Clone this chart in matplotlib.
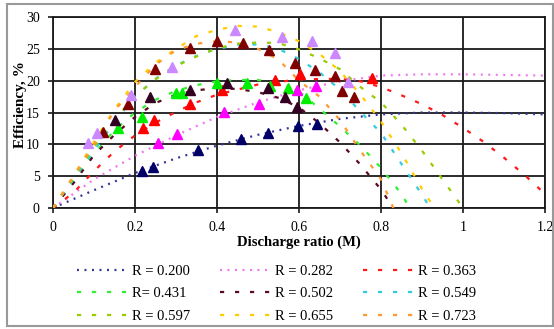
import numpy as np
import matplotlib
matplotlib.use("Agg")
import matplotlib.pyplot as plt
from matplotlib.patches import Rectangle

# fitted curves (M, efficiency %)
m_200 = [0, 0.1, 0.2, 0.3, 0.4, 0.5, 0.6, 0.7, 0.8, 0.9, 1.0, 1.1, 1.2]
e_200 = [0, 2.8, 5.5, 7.8, 9.8, 11.5, 12.9, 14.0, 14.7, 15.0, 15.0, 14.9, 14.7]

m_282 = [0, 0.1, 0.2, 0.3, 0.4, 0.5, 0.6, 0.7, 0.8, 0.9, 1.0, 1.1, 1.2]
e_282 = [0, 4.5, 8.2, 11.4, 14.3, 16.6, 18.5, 19.9, 20.8, 21.0, 21.0, 20.9, 20.8]

m_363 = [0, 0.05, 0.1, 0.15, 0.2, 0.25, 0.3, 0.35, 0.4, 0.5, 0.6, 0.7, 0.75,
         0.8, 0.85, 0.9, 0.95, 1.0, 1.05, 1.1, 1.15, 1.2]
e_363 = [0, 2.4, 5.8, 8.9, 11.4, 13.4, 15.1, 16.6, 17.8, 19.4, 20.2, 20.3, 19.9,
         19.0, 17.7, 16.3, 14.6, 12.6, 10.4, 7.9, 5.2, 2.2]

m_431 = [0, 0.05, 0.1, 0.15, 0.2, 0.25, 0.3, 0.35, 0.4, 0.45, 0.5, 0.55, 0.6,
         0.65, 0.7, 0.75, 0.8, 0.85, 0.87]
e_431 = [0, 4.3, 8.5, 12.2, 15.0, 17.0, 18.4, 19.3, 19.9, 20.1, 20.1, 19.6, 18.3,
         15.6, 12.8, 9.8, 6.3, 2.2, 0]

m_502 = [0, 0.05, 0.1, 0.15, 0.2, 0.25, 0.3, 0.35, 0.4, 0.45, 0.5, 0.55, 0.6,
         0.65, 0.7, 0.75, 0.8, 0.83]
e_502 = [0, 3.9, 8.3, 11.5, 14.3, 16.5, 17.8, 18.5, 18.8, 18.7, 18.2, 17.3, 15.8,
         13.3, 10.3, 6.8, 2.9, 0]

m_549 = [0, 0.05, 0.1, 0.15, 0.2, 0.25, 0.3, 0.35, 0.4, 0.45, 0.5, 0.55, 0.6,
         0.65, 0.7, 0.75, 0.8, 0.85, 0.9, 0.92]
e_549 = [0, 4.5, 9.0, 13.5, 17.5, 20.3, 22.4, 23.9, 25.0, 25.6, 25.7, 25.0, 23.4,
         21.3, 18.6, 15.1, 11.8, 6.9, 2.1, 0]

m_597 = [0, 0.05, 0.1, 0.15, 0.2, 0.25, 0.3, 0.35, 0.4, 0.45, 0.5, 0.55, 0.6,
         0.65, 0.7, 0.75, 0.8, 0.85, 0.9, 0.95, 1.0]
e_597 = [0, 4.8, 9.6, 13.8, 17.6, 20.2, 22.3, 23.8, 25.1, 25.8, 26.0, 25.9, 24.9,
         23.5, 21.8, 19.0, 16.6, 13.1, 9.0, 4.5, 0]

m_655 = [0, 0.05, 0.1, 0.15, 0.2, 0.25, 0.3, 0.35, 0.4, 0.45, 0.5, 0.55, 0.6,
         0.65, 0.7, 0.75, 0.8, 0.85, 0.9, 0.93]
e_655 = [0, 5.0, 10.4, 15.5, 19.8, 22.8, 25.0, 27.0, 28.0, 28.6, 28.5, 27.6, 26.2,
         24.2, 21.5, 17.8, 13.6, 8.6, 3.0, 0]

m_723 = [0, 0.05, 0.1, 0.15, 0.2, 0.25, 0.3, 0.35, 0.4, 0.45, 0.5, 0.55, 0.6,
         0.65, 0.7, 0.75, 0.8, 0.83]
e_723 = [0, 5.0, 10.0, 15.3, 19.0, 22.5, 24.8, 25.8, 26.2, 26.0, 25.0, 23.3, 20.0,
         17.5, 13.8, 9.0, 4.5, 0]

labels = ["R = 0.200", "R = 0.282", "R = 0.363", "R= 0.431", "R = 0.502",
          "R = 0.549", "R = 0.597", "R = 0.655", "R = 0.723"]
colors = ["#333399", "#ee77ee", "#ff1a1a", "#33ee33", "#5a0a20",
          "#33ccdd", "#99cc00", "#ffcc00", "#ff9933"]

# measured points (triangles), grouped by marker colour
tri_navy_m = [0.216, 0.245, 0.354, 0.459, 0.525, 0.598, 0.645]
tri_navy_e = [5.8, 6.4, 9.1, 10.9, 11.8, 12.9, 13.2]
tri_magenta_m = [0.257, 0.302, 0.417, 0.503, 0.594, 0.641]
tri_magenta_e = [10.2, 11.6, 15.1, 16.4, 18.5, 19.2]
tri_red_m = [0.22, 0.246, 0.334, 0.411, 0.541, 0.602, 0.777]
tri_red_e = [12.5, 13.9, 16.3, 18.6, 20.1, 21.0, 20.4]
tri_green_m = [0.159, 0.216, 0.30, 0.314, 0.399, 0.472, 0.529, 0.574, 0.617]
tri_green_e = [12.5, 14.3, 18.1, 18.1, 19.6, 19.6, 19.2, 18.8, 17.2]
tri_dark_m = [0.151, 0.237, 0.334, 0.424, 0.525, 0.566, 0.594]
tri_dark_e = [13.8, 17.5, 18.6, 19.7, 18.8, 17.5, 15.9]
tri_maroon_m = [0.123, 0.184, 0.249, 0.334, 0.399, 0.464, 0.528, 0.59, 0.639,
                0.688, 0.704, 0.733]
tri_maroon_e = [12.0, 16.4, 21.9, 25.1, 26.3, 25.9, 24.8, 22.7, 21.7,
                20.7, 18.4, 17.4]
tri_violet_m = [0.086, 0.107, 0.19, 0.29, 0.444, 0.558, 0.632, 0.688, 0.72]
tri_violet_e = [10.2, 11.8, 17.7, 22.2, 27.9, 26.9, 26.3, 24.3, 19.8]

plt.rcParams['font.family'] = ['Liberation Serif', 'DejaVu Serif']
plt.rcParams['lines.scale_dashes'] = False

fig = plt.figure(figsize=(5.54, 3.29), dpi=100)
ax = fig.add_axes([53 / 554, 1 - 208 / 329, (545 - 53) / 554, (208 - 17) / 329])

curves = [(m_200, e_200), (m_282, e_282), (m_363, e_363), (m_431, e_431),
          (m_502, e_502), (m_549, e_549), (m_597, e_597), (m_655, e_655),
          (m_723, e_723)]
handles = []
for i, (m, e) in enumerate(curves):
    if i < 2:
        ls = (0, (1.4, 4.0))
    else:
        ls = (0, (3.0, 7.8))
    h, = ax.plot(m, e, color=colors[i], lw=1.6, linestyle=ls,
                 label=labels[i], zorder=3)
    handles.append(h)

tri_sets = [(tri_navy_m, tri_navy_e, "#000066"),
            (tri_magenta_m, tri_magenta_e, "#ff00ff"),
            (tri_red_m, tri_red_e, "#ff0000"),
            (tri_green_m, tri_green_e, "#00ee00"),
            (tri_dark_m, tri_dark_e, "#330022"),
            (tri_maroon_m, tri_maroon_e, "#800000"),
            (tri_violet_m, tri_violet_e, "#cc88ff")]
for m, e, c in tri_sets:
    ax.plot(m, e, linestyle='none', marker='^', ms=6.5, color=c, zorder=4)

ax.set_xlim(0, 1.2)
ax.set_ylim(0, 30)
ax.set_xticks([0, 0.2, 0.4, 0.6, 0.8, 1.0, 1.2])
ax.set_xticklabels(['0', '0.2', '0.4', '0.6', '0.8', '1', '1.2'])
ax.set_yticks([0, 5, 10, 15, 20, 25, 30])
ax.grid(True, color='#1a1a1a', lw=1.3)
ax.set_axisbelow(True)
for s in ax.spines.values():
    s.set_color('#1a1a1a')
    s.set_linewidth(1.3)
ax.tick_params(labelsize=10, length=3.5, width=1.2, pad=6, color='#1a1a1a')
ax.set_xlabel('Discharge ratio (M)', fontsize=10.5, fontweight='bold', labelpad=1)
ax.set_ylabel('Efficiency, %', fontsize=11, fontweight='bold', va='center')
ax.yaxis.set_label_coords(-0.066, 0.54)

order = [0, 3, 6, 1, 4, 7, 2, 5, 8]
fig.legend([handles[i] for i in order], [labels[i] for i in order],
           loc='upper left', bbox_to_anchor=(77 / 554, 1 - 265 / 329),
           ncol=3, frameon=False, fontsize=10.5, handlelength=3.5,
           handletextpad=0.27, columnspacing=2.05, labelspacing=0.62,
           borderpad=0, borderaxespad=0)

fig.patches.append(Rectangle((7 / 554, 3 / 329), (553 - 7) / 554, (326 - 4) / 329,
                             transform=fig.transFigure, fill=False,
                             ec='#999999', lw=1.5))

fig.savefig('out.png', dpi=100)
